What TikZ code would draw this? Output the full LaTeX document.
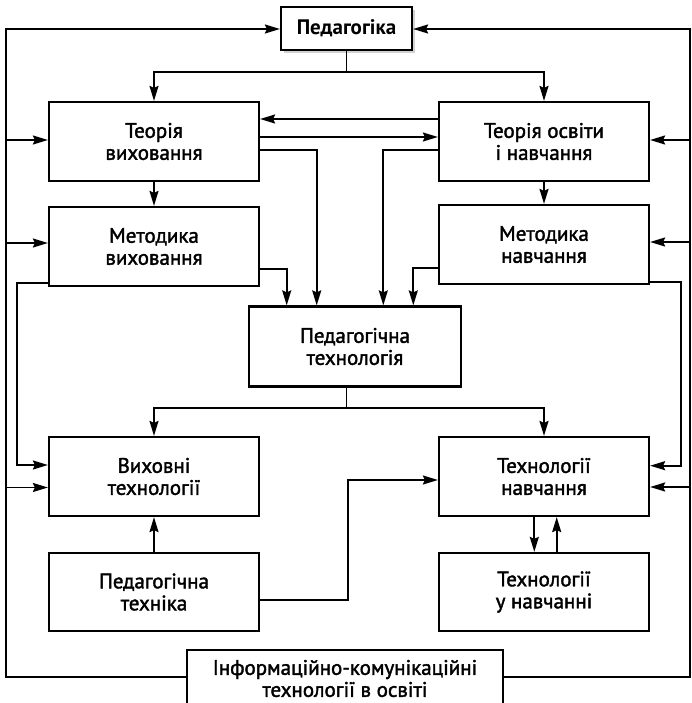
\documentclass[tikz,border=0pt]{standalone}
\usepackage{fontspec}
\setmainfont{PT Sans}
\newfontface\boxfont{PT Sans}[FakeBold=1.8]
\usetikzlibrary{arrows.meta,shadows}
\begin{document}
\begin{tikzpicture}[x=1pt,y=-1pt,
  box/.style={draw,fill=white,line width=2.2pt,minimum width=210pt,minimum height=79pt,
    inner sep=0pt,align=center,font=\fontsize{21}{22}\boxfont},
  ln/.style={line width=1.8pt},
  arr/.style={line width=1.8pt,-{Stealth[length=15pt,width=9pt,inset=2pt]}}]
  \useasboundingbox (0,0) rectangle (691,703);

  \node[box,minimum width=131pt,minimum height=43pt,font=\fontsize{21}{22}\selectfont\bfseries,
    drop shadow={shadow xshift=3pt,shadow yshift=-3pt,fill=black!35}] (ped) at (346.5,28.5) {Педагогіка};
  \node[box] (tvh) at (154,141.5) {Теорія\\виховання};
  \node[box] (ton) at (544,141.5) {Теорія освіти\\і навчання};
  \node[box] (mvh) at (154,246.5) {Методика\\виховання};
  \node[box] (mnv) at (544,244.5) {Методика\\навчання};
  \node[box,minimum width=212pt,minimum height=80pt] (ptech) at (355,346.5) {Педагогічна\\технологія};
  \node[box] (vtech) at (154,476.5) {Виховні\\технології};
  \node[box] (tnav) at (544,476.5) {Технології\\навчання};
  \node[box,minimum height=78pt] (ptekh) at (154,592) {Педагогічна\\техніка};
  \node[box,minimum height=78pt] (tun) at (544,592) {Технології\\у навчанні};
  \node[box,minimum width=316pt,minimum height=57pt] (ikt) at (345,678.5) {Інформаційно-комунікаційні\\технології в освіті};

  \coordinate (L) at (6,29);
  \coordinate (R) at (690,29);
  \coordinate (Li) at (16.7,0);
  \coordinate (Ri) at (680.7,0);

  \draw[ln] (ped.south) -- ++(0,21) coordinate (s1);
  \draw[arr] (s1) -| (tvh.north);
  \draw[arr] (s1) -| (ton.north);

  \draw[arr] (ton.west |- 0,119) -- (tvh.east |- 0,119);
  \draw[arr] (tvh.east |- 0,137) -- (ton.west |- 0,137);
  \draw[arr] (tvh.east |- 0,150) -| ([xshift=-38.3pt]ptech.north);
  \draw[arr] (ton.west |- 0,150) -| ([xshift=28.3pt]ptech.north);
  \draw[arr] (mvh.east |- 0,269) -| ([xshift=-68.3pt]ptech.north);
  \draw[arr] (mnv.west |- 0,268) -| ([xshift=58.3pt]ptech.north);

  \draw[arr] (tvh) -- (mvh);
  \draw[arr] (ton) -- (mnv);

  \draw[arr] (ikt.west |- 0,676.7) -| (L) -- (ped.west |- L);
  \draw[arr] (ikt.east |- 0,676.7) -| (R) -- (691,29) -- (ped.east |- R);
  \draw[arr] (L |- 0,140) -- (tvh.west |- 0,140);
  \draw[arr] (L |- 0,243) -- (mvh.west |- 0,243);
  \draw[arr] (L |- 0,487.5) -- (vtech.west |- 0,487.5);
  \draw[arr] (R |- 0,140) -- (ton.east |- 0,140);
  \draw[arr] (R |- 0,242) -- (mnv.east |- 0,242);
  \draw[arr] (R |- 0,487) -- (tnav.east |- 0,487);

  \draw[arr] (mvh.west |- 0,282.7) -| (Li |- 0,465) -- (vtech.west |- 0,465);
  \draw[arr] (mnv.east |- 0,281.7) -| (Ri |- 0,465.7) -- (tnav.east |- 0,465.7);

  \draw[ln] (ptech.south -| ped.south) -- ++(0,20.5) coordinate (s2);
  \draw[arr] (s2) -| (vtech.north);
  \draw[arr] (s2) -| (tnav.north);

  \draw[arr] (ptekh) -- (vtech);
  \draw[arr] (ptekh.east |- 0,600) -| (348,480) -- (tnav.west |- 0,480);
  \draw[arr] (tnav.south -| 534.3,0) -- (tun.north -| 534.3,0);
  \draw[arr] (tun.north -| 556.7,0) -- (tnav.south -| 556.7,0);
\end{tikzpicture}
\end{document}
